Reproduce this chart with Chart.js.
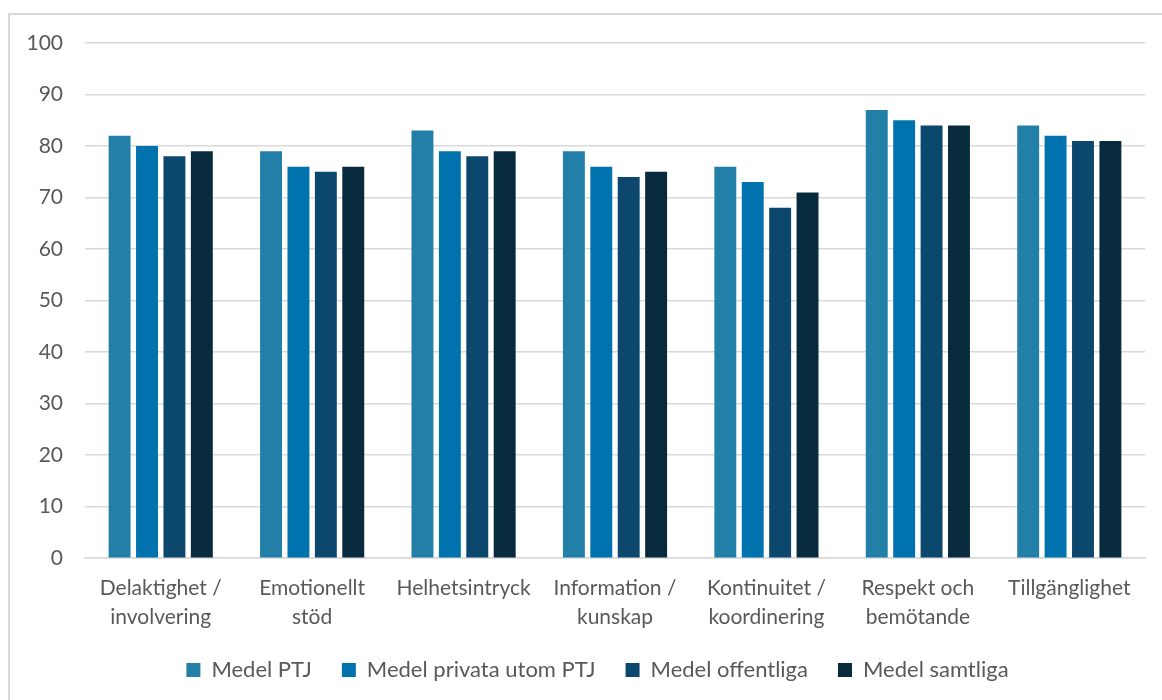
<!DOCTYPE html>
<html>
<head>
<meta charset="utf-8">
<script src="https://cdn.jsdelivr.net/npm/chart.js@4/dist/chart.umd.min.js"></script>
<style>
    html, body { margin: 0; padding: 0; background: #fff; }
    #wrap { position: absolute; left: 0; top: 0; width: 1162px; height: 700px; }
</style>
</head>
<body>
<div id="wrap"><canvas id="scoreChart" width="1162" height="700"></canvas></div>
<script>
// ===== DATA =====
const categories = [
    ['Delaktighet /', 'involvering'],
    ['Emotionellt', 'stöd'],
    'Helhetsintryck',
    ['Information /', 'kunskap'],
    ['Kontinuitet /', 'koordinering'],
    ['Respekt och', 'bemötande'],
    'Tillgänglighet'
];
const seriesNames = ['Medel PTJ', 'Medel privata utom PTJ', 'Medel offentliga', 'Medel samtliga'];
const medelPtj = [82, 79, 83, 79, 76, 87, 84];
const medelPrivata = [80, 76, 79, 76, 73, 85, 82];
const medelOffentliga = [78, 75, 78, 74, 68, 84, 81];
const medelSamtliga = [79, 76, 79, 75, 71, 84, 81];
const yTicks = [0, 10, 20, 30, 40, 50, 60, 70, 80, 90, 100];

const colors = ['#2280a8', '#0072ae', '#0c486e', '#072b3d'];
const seriesValues = [medelPtj, medelPrivata, medelOffentliga, medelSamtliga];

Chart.defaults.font.family = "Lato, 'Open Sans', sans-serif";
Chart.defaults.font.size = 21;
Chart.defaults.color = '#595959';

// light grey frame round the whole chart
const framePlugin = {
    id: 'frame',
    beforeDraw(chart) {
        const c = chart.ctx;
        c.save();
        c.strokeStyle = '#d9d9d9';
        c.lineWidth = 2;
        c.strokeRect(9, 14, chart.width + 10, chart.height + 10);
        c.restore();
    }
};

const ctx = document.getElementById('scoreChart');
const scoreChart = new Chart(ctx, {
    type: 'bar',
    data: {
        labels: categories,
        datasets: seriesNames.map((name, i) => ({
            label: name,
            data: seriesValues[i],
            backgroundColor: colors[i],
            categoryPercentage: 0.724,
            barPercentage: 0.8
        }))
    },
    options: {
        responsive: false,
        animation: false,
        layout: {
            padding: { top: 43, right: 17, left: 0, bottom: 0 }
        },
        plugins: {
            legend: {
                position: 'bottom',
                labels: {
                    boxWidth: 14,
                    boxHeight: 14,
                    padding: 30,
                    font: { size: 22 }
                }
            },
            tooltip: { enabled: false }
        },
        scales: {
            x: {
                grid: { display: false },
                border: { color: '#d9d9d9', width: 1.5 },
                ticks: {
                    maxRotation: 0,
                    autoSkip: false,
                    padding: 7,
                    font: { size: 21, lineHeight: 1.4 }
                }
            },
            y: {
                min: 0,
                max: 100,
                afterBuildTicks(scale) {
                    scale.ticks = yTicks.map(v => ({ value: v }));
                },
                afterFit(scale) {
                    scale.width = 85;
                },
                grid: { color: '#d9d9d9', lineWidth: 1.5, drawTicks: false },
                border: { display: false },
                ticks: { padding: 22, font: { size: 21 } }
            }
        }
    },
    plugins: [framePlugin]
});

// wide gaps between legend items, but keep the legend band short
const legend = scoreChart.legend;
const legendFit = legend.fit;
legend.fit = function () {
    legendFit.call(this);
    this.height = 61;
};
const legendDraw = legend.draw;
legend.draw = function () {
    const c = this.ctx;
    c.save();
    c.translate(25, -10);
    legendDraw.call(this);
    c.restore();
};
scoreChart.update();
</script>
</body>
</html>
